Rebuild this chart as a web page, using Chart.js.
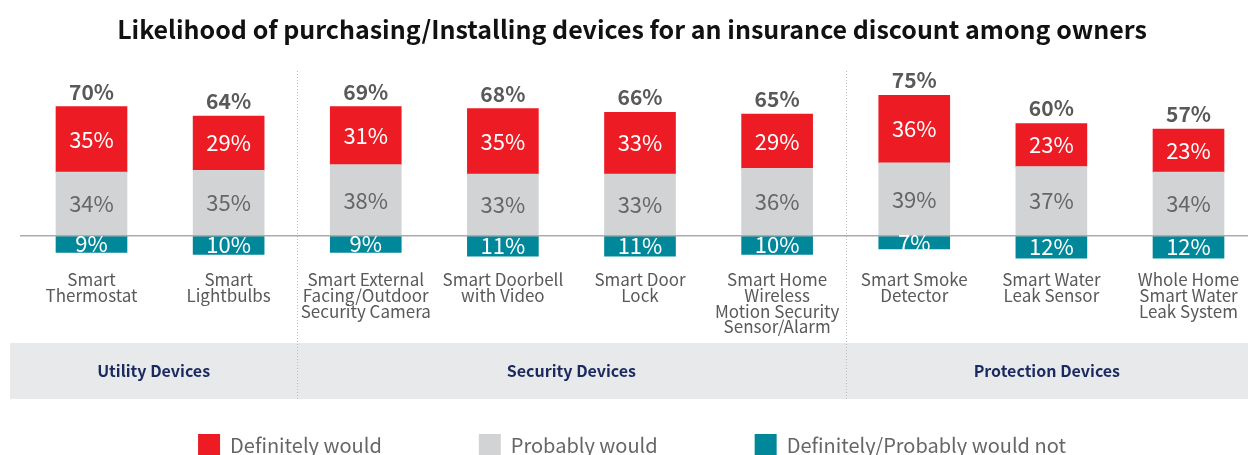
<!DOCTYPE html>
<html lang="en">
<head>
<meta charset="UTF-8">
<meta name="viewport" content="width=device-width, initial-scale=1.0">
<title>Likelihood of purchasing/Installing devices for an insurance discount among owners</title>
<script src="https://cdn.jsdelivr.net/npm/chart.js"></script>
<style>
    html, body { margin: 0; padding: 0; background: #ffffff; overflow: hidden; }
    .wrap { width: 1248px; height: 455px; }
</style>
</head>
<body>
<div class="wrap"><canvas id="devChart" width="1248" height="455"></canvas></div>

<script>
    // device names, one line per array entry
    const devices = [
        ['Smart', 'Thermostat'],
        ['Smart', 'Lightbulbs'],
        ['Smart External', 'Facing/Outdoor', 'Security Camera'],
        ['Smart Doorbell', 'with Video'],
        ['Smart Door', 'Lock'],
        ['Smart Home', 'Wireless', 'Motion Security', 'Sensor/Alarm'],
        ['Smart Smoke', 'Detector'],
        ['Smart Water', 'Leak Sensor'],
        ['Whole Home', 'Smart Water', 'Leak System']
    ];
    const definitelyWould = [35, 29, 31, 35, 33, 29, 36, 23, 23];
    const probablyWould   = [34, 35, 38, 33, 33, 36, 39, 37, 34];
    const wouldNot        = [9, 10, 9, 11, 11, 10, 7, 12, 12];
    const totalWould      = [70, 64, 69, 68, 66, 65, 75, 60, 57];

    const groupNames = ['Utility Devices', 'Security Devices', 'Protection Devices'];
    const groupFirst = [0, 2, 6];
    const groupLast  = [1, 5, 8];

    const FONT = "'Noto Sans CJK JP', 'Noto Sans', sans-serif";
    const RED = '#ED1C24';
    const GREY = '#D1D3D4';
    const TEAL = '#00879A';

    const toPoints = (arr, sign) => arr.map((v, i) => ({ x: i, y: v * sign }));

    // legend shows red, grey, teal even though grey is stacked first
    const legendRank = [1, 0, 2];

    const groupPlugin = {
        id: 'deviceGroups',
        beforeDraw(chart) {
            const ctx = chart.ctx;
            const x = chart.scales.x;
            const bandTop = 343, bandBottom = 399;
            ctx.save();
            ctx.fillStyle = '#E8E9EB';
            ctx.fillRect(10, bandTop, chart.width - 10, bandBottom - bandTop);

            // dotted separators between the groups
            const edges = [10];
            for (let g = 0; g < groupNames.length - 1; g++) {
                edges.push(x.getPixelForValue(groupLast[g] + 0.5));
            }
            edges.push(chart.width);
            ctx.strokeStyle = '#BDBDBD';
            ctx.lineWidth = 1;
            ctx.setLineDash([1, 2]);
            for (let g = 1; g < edges.length - 1; g++) {
                const px = Math.round(edges[g]) + 0.5;
                ctx.beginPath();
                ctx.moveTo(px, 71);
                ctx.lineTo(px, bandBottom);
                ctx.stroke();
            }
            ctx.setLineDash([]);

            ctx.fillStyle = '#1B2A5E';
            ctx.font = 'bold 16px ' + FONT;
            ctx.textAlign = 'center';
            ctx.textBaseline = 'middle';
            groupNames.forEach((name, g) => {
                ctx.fillText(name, (edges[g] + edges[g + 1]) / 2, (bandTop + bandBottom) / 2);
            });
            ctx.restore();
        },
        afterDatasetsDraw(chart) {
            const ctx = chart.ctx;
            const y0 = chart.scales.y.getPixelForValue(0);
            ctx.save();

            // zero line
            ctx.strokeStyle = '#ABABAB';
            ctx.lineWidth = 1.5;
            ctx.beginPath();
            ctx.moveTo(20, y0);
            ctx.lineTo(chart.width, y0);
            ctx.stroke();

            // values inside each segment
            ctx.textAlign = 'center';
            ctx.textBaseline = 'middle';
            ctx.font = '22px ' + FONT;
            chart.data.datasets.forEach((ds, di) => {
                const meta = chart.getDatasetMeta(di);
                ctx.fillStyle = ds.labelColor;
                meta.data.forEach((bar, i) => {
                    const v = Math.abs(ds.data[i].y);
                    ctx.fillText(v + '%', bar.x, (bar.y + bar.base) / 2);
                });
            });

            // totals above the stacks
            const top = chart.getDatasetMeta(1);
            ctx.font = 'bold 21px ' + FONT;
            ctx.fillStyle = '#595959';
            top.data.forEach((bar, i) => {
                ctx.fillText(totalWould[i] + '%', bar.x, bar.y - 15);
            });
            ctx.restore();
        }
    };

    const chart = new Chart(document.getElementById('devChart'), {
        type: 'bar',
        data: {
            datasets: [
                { label: 'Probably would', data: toPoints(probablyWould, 1), backgroundColor: GREY, labelColor: '#666666' },
                { label: 'Definitely would', data: toPoints(definitelyWould, 1), backgroundColor: RED, labelColor: '#FFFFFF' },
                { label: 'Definitely/Probably would not', data: toPoints(wouldNot, -1), backgroundColor: TEAL, labelColor: '#FFFFFF' }
            ]
        },
        options: {
            responsive: false,
            animation: false,
            events: [],
            barThickness: 71,
            layout: { padding: { left: 16, right: 0, top: 0, bottom: -11 } },
            scales: {
                x: {
                    type: 'linear',
                    offset: false,
                    stacked: true,
                    min: -0.5506,
                    max: 8.4339,
                    grid: { display: false, drawTicks: false },
                    border: { display: false },
                    // one tick per device
                    afterBuildTicks: s => { s.ticks = devices.map((d, i) => ({ value: i })); },
                    afterFit: s => {
                        s.height = 75;
                        s.paddingLeft = 0;
                        s.paddingRight = 0;
                    },
                    ticks: {
                        autoSkip: false,
                        maxRotation: 0,
                        minRotation: 0,
                        padding: 10,
                        color: '#595959',
                        font: { family: FONT, size: 17, lineHeight: 0.92 },
                        callback: v => devices[v]
                    }
                },
                y: {
                    display: false,
                    stacked: true,
                    min: -14.06,
                    max: 88.7
                }
            },
            plugins: {
                title: {
                    display: true,
                    text: 'Likelihood of purchasing/Installing devices for an insurance discount among owners',
                    color: '#111111',
                    font: { family: FONT, size: 25, weight: 'bold' },
                    padding: { top: 14, bottom: 25.8 }
                },
                legend: {
                    position: 'bottom',
                    labels: {
                        boxWidth: 22,
                        boxHeight: 22,
                        padding: 97,
                        color: '#666666',
                        font: { family: FONT, size: 20 },
                        sort: (a, b) => legendRank[a.datasetIndex] - legendRank[b.datasetIndex]
                    }
                },
                tooltip: { enabled: false }
            }
        },
        plugins: [groupPlugin]
    });
</script>
</body>
</html>
